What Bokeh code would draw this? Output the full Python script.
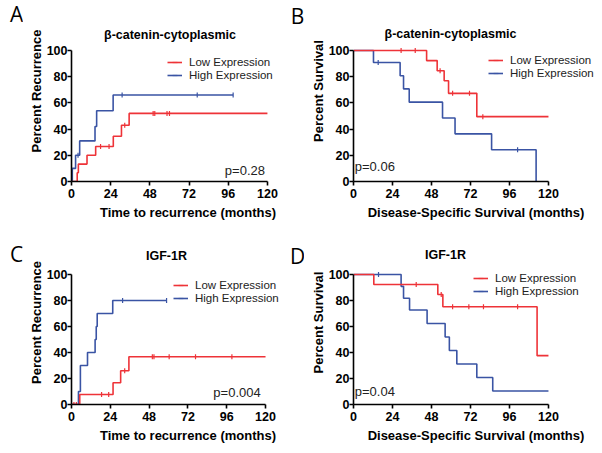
import math
from bokeh.plotting import figure
from bokeh.layouts import row, column
from bokeh.models import Label, Legend, LegendItem, Range1d, Div
from bokeh.embed import file_html
from bokeh.resources import INLINE

RED = "#EE3338"
BLUE = "#3A54A4"

x_ticks = [0, 24, 48, 72, 96, 120]
y_ticks = [0, 20, 40, 60, 80, 100]

# Panel A: beta-catenin cytoplasmic, recurrence
A_low_t = [0, 3.5, 4.2, 9.5, 14.8, 25.6, 30.6, 35.3, 120]
A_low_y = [0, 6.7, 13.3, 20, 26.7, 34.5, 43, 52, 52]
A_low_ct = [17.8, 23, 32.6, 50, 51, 58.5, 60]
A_low_cy = [26.7, 26.7, 43, 52, 52, 52, 52]
A_high_t = [0, 0.5, 2.5, 5, 14.4, 15.4, 25.5, 99]
A_high_y = [0, 10, 20, 31, 42, 54, 66, 66]
A_high_ct = [4, 31, 77, 99]
A_high_cy = [20, 66, 66, 66]

# Panel B: beta-catenin cytoplasmic, survival
B_low_t = [0, 45, 51.5, 55.8, 58.5, 75.9, 120]
B_low_y = [100, 92.3, 84.6, 76.9, 67.3, 49.5, 49.5]
B_low_ct = [29.3, 38, 53.3, 61, 71.4, 79.6]
B_low_cy = [100, 100, 84.6, 67.3, 67.3, 49.5]
B_high_t = [0, 12.3, 28.7, 30.8, 34.3, 54.8, 62.5, 85, 112.4]
B_high_y = [100, 90.9, 80.8, 70.7, 60.6, 48.5, 36.4, 24.2, 0]
B_high_ct = [15.2, 101]
B_high_cy = [90.9, 24.2]

# Panel C: IGF-1R, recurrence
C_low_t = [0, 5.1, 25.7, 30.4, 35.5, 120]
C_low_y = [0, 7.7, 16.7, 26, 36.7, 36.7]
C_low_ct = [1.5, 3, 18.6, 23, 32.9, 50, 51, 60.4, 76.7, 99.2]
C_low_cy = [0, 0, 7.7, 7.7, 26, 36.7, 36.7, 36.7, 36.7, 36.7]
C_high_t = [0, 4.3, 5.5, 9.9, 14.6, 15.3, 15.9, 25.5, 58.8]
C_high_y = [0, 10, 30, 40, 50, 60, 70, 80, 80]
C_high_ct = [31.6, 58.8]
C_high_cy = [80, 80]

# Panel D: IGF-1R, survival
D_low_t = [0, 12.5, 51.9, 55, 113, 120]
D_low_y = [100, 92.3, 84.6, 75.2, 37.6, 37.6]
D_low_ct = [38.6, 54, 61, 71, 80, 101]
D_low_cy = [92.3, 84.6, 75.2, 75.2, 75.2, 75.2]
D_high_t = [0, 29.3, 30.8, 34.5, 45.3, 56.4, 59, 63.6, 75.9, 85.7, 120]
D_high_y = [100, 90.9, 81.8, 72.7, 62.3, 51.9, 41.6, 31.2, 20.8, 10.4, 10.4]
D_high_ct = [15.4]
D_high_cy = [100]

FONT = "Liberation Sans"


def letter_label(text, x, y):
    return Label(x=x, y=y, x_units="screen", y_units="screen", text=text,
                 text_align="center", text_baseline="middle",
                 text_font="Open Sans", text_font_size="21px",
                 text_color="black")


def letter_div(text, width, height):
    html = ('<div style="margin:0;padding:0 0 0 10px;font-family:\'Open Sans\';'
            'font-size:21px;line-height:29px;color:black;">%s</div>' % text)
    return Div(text=html, width=width, height=height, margin=0)


def panel(width, height, borders, xend, yend, title, title_pos,
          xlabel, ylabel, low, high, ptext, ppos, palign, legend_loc,
          next_letter=None, next_pos=None):
    top, right, bottom, left = borders
    p = figure(width=width, height=height, output_backend="svg",
               toolbar_location=None, x_range=Range1d(0, xend),
               y_range=Range1d(0, yend), min_border_top=top,
               min_border_right=right, min_border_bottom=bottom,
               min_border_left=left)
    p.outline_line_color = None
    p.xgrid.visible = False
    p.ygrid.visible = False
    for ax, ticks, lab, bnd, stand in (
            (p.xaxis[0], x_ticks, xlabel, (0, 120), (3, 4)),
            (p.yaxis[0], y_ticks, ylabel, (0, 100), (0, 0))):
        ax.ticker = ticks
        ax.bounds = bnd
        ax.axis_label = lab
        ax.axis_line_width = 1.6
        ax.axis_line_color = "black"
        ax.major_tick_line_width = 1.6
        ax.major_tick_in = 0
        ax.major_tick_out = 4
        ax.minor_tick_line_color = None
        ax.major_label_text_font = FONT
        ax.major_label_text_font_style = "bold"
        ax.major_label_text_font_size = "12.5px"
        ax.major_label_text_color = "black"
        ax.axis_label_text_font = FONT
        ax.axis_label_text_font_style = "bold"
        ax.axis_label_text_font_size = "13px"
        ax.axis_label_text_color = "black"
        ax.major_label_standoff = stand[0]
        ax.axis_label_standoff = stand[1]

    items = []
    for (t, y, ct, cy), color, name in ((high, BLUE, "High Expression"),
                                         (low, RED, "Low Expression")):
        r1 = p.step(t, y, mode="after", line_color=color, line_width=1.6)
        r2 = p.scatter(ct, cy, marker="dash", angle=math.pi / 2, size=5,
                       line_color=color, line_width=1.2)
        items.append(LegendItem(label=name, renderers=[r1, r2]))
    items.reverse()
    leg = Legend(items=items, location=legend_loc, padding=0, margin=0,
                 spacing=1, glyph_width=15, glyph_height=12, label_height=12,
                 label_standoff=7, border_line_color=None,
                 background_fill_alpha=0, label_text_font=FONT,
                 label_text_font_size="11.5px", label_text_color="#222222")
    p.add_layout(leg, "center")

    p.add_layout(Label(x=ppos[0], y=ppos[1], text=ptext, text_align=palign,
                       text_baseline="middle", text_font=FONT,
                       text_font_size="13px", text_color="#222222"))
    p.add_layout(Label(x=title_pos[0], y=title_pos[1], x_units="screen",
                       y_units="screen", text=title, text_align="center",
                       text_baseline="middle", text_font=FONT,
                       text_font_style="bold", text_font_size="12.5px",
                       text_color="black"))
    if next_letter:
        p.add_layout(letter_label(next_letter, *next_pos))
    return p


dA = letter_div("A", 22, 240)
dC = letter_div("C", 22, 209)

pA = panel(282, 240, (0, 0, 59, 49), 142.7, 138.2,
           "β-catenin-cytoplasmic", (98.5, 147),
           "Time to recurrence (months)", "Percent Recurrence",
           (A_low_t, A_low_y, A_low_ct, A_low_cy),
           (A_high_t, A_high_y, A_high_ct, A_high_cy),
           "p=0.28", (118.5, 8.4), "right", (96, 100),
           "B", (226, 165.5))
pB = panel(294, 240, (0, 0, 59, 49), 150.8, 138.2,
           "β-catenin-cytoplasmic", (97, 148),
           "Disease-Specific Survival (months)", "Percent Survival",
           (B_low_t, B_low_y, B_low_ct, B_low_cy),
           (B_high_t, B_high_y, B_high_ct, B_high_cy),
           "p=0.06", (0.8, 11.5), "left", (135, 102))
pC = panel(282, 209, (0, 0, 45, 49), 144.1, 126.2,
           "IGF-1R", (95, 149),
           "Time to recurrence (months)", "Percent Recurrence",
           (C_low_t, C_low_y, C_low_ct, C_low_cy),
           (C_high_t, C_high_y, C_high_ct, C_high_cy),
           "p=0.004", (117, 9.2), "right", (102, 100),
           "D", (226, 149))
pD = panel(294, 209, (0, 0, 45, 49), 150.8, 126.2,
           "IGF-1R", (92, 150),
           "Disease-Specific Survival (months)", "Percent Survival",
           (D_low_t, D_low_y, D_low_ct, D_low_cy),
           (D_high_t, D_high_y, D_high_ct, D_high_cy),
           "p=0.04", (0.8, 10), "left", (120, 107))

layout = column(row(dA, pA, pB), row(dC, pC, pD))

open("out.html", "w").write(file_html(layout, INLINE))
